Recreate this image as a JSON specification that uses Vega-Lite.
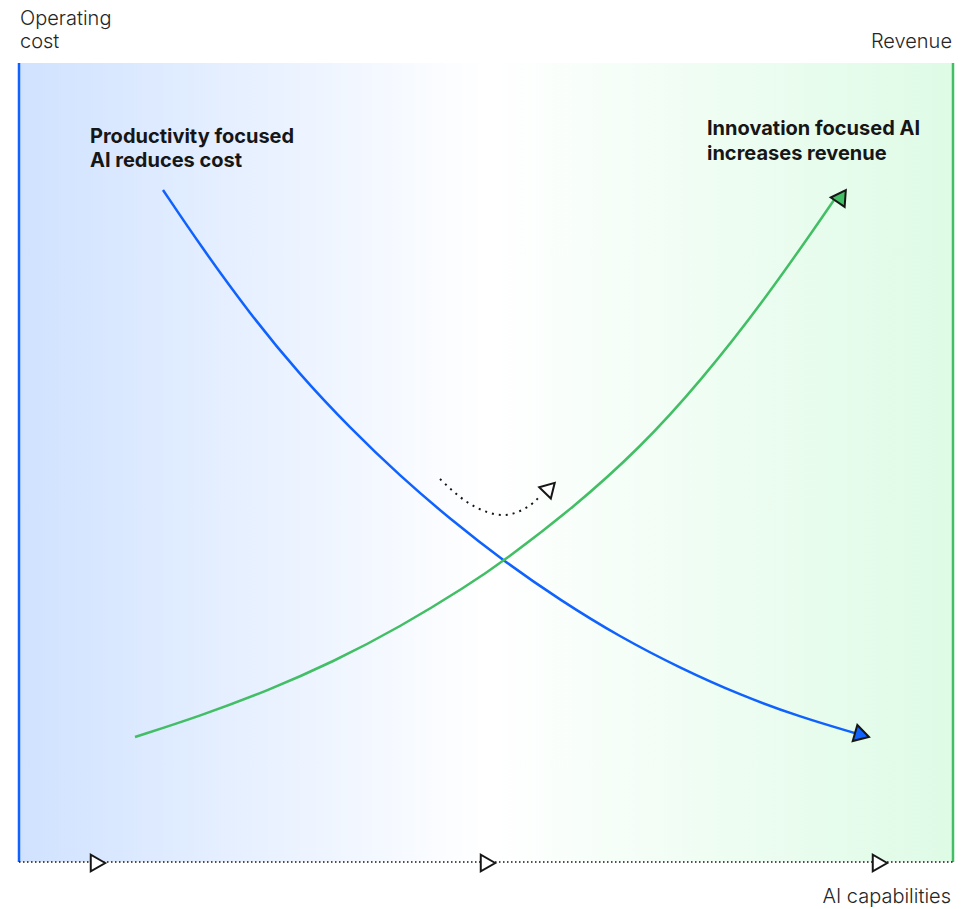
{
  "$schema": "https://vega.github.io/schema/vega-lite/v6.json",
  "width": 971,
  "height": 909,
  "padding": 0,
  "autosize": {"type": "fit", "contains": "padding"},
  "background": "#ffffff",
  "config": {"view": {"stroke": null}},
  "layer": [
    {
      "data": {"values": [{"x0": 19, "x1": 953, "y0": 63, "y1": 862}]},
      "mark": {
        "type": "rect",
        "fill": {
          "gradient": "linear",
          "x1": 0, "x2": 1, "y1": 0, "y2": 0,
          "stops": [
            {"offset": 0, "color": "#d0e2ff"},
            {"offset": 0.5, "color": "#ffffff"},
            {"offset": 1, "color": "#defbe6"}
          ]
        }
      },
      "encoding": {
        "x": {"field": "x0", "type": "quantitative", "scale": {"domain": [0, 971], "nice": false, "zero": false}, "axis": null},
        "x2": {"field": "x1"},
        "y": {"field": "y0", "type": "quantitative", "scale": {"domain": [0, 909], "nice": false, "zero": false, "reverse": true}, "axis": null},
        "y2": {"field": "y1"}
      }
    },
    {
      "data": {"values": [{"x": 19, "y0": 63, "y1": 862}]},
      "mark": {"type": "rule", "color": "#0f62fe", "strokeWidth": 2.5},
      "encoding": {
        "x": {"field": "x", "type": "quantitative"},
        "y": {"field": "y0", "type": "quantitative"},
        "y2": {"field": "y1"}
      }
    },
    {
      "data": {"values": [{"x": 953, "y0": 63, "y1": 862}]},
      "mark": {"type": "rule", "color": "#42be65", "strokeWidth": 2.5},
      "encoding": {
        "x": {"field": "x", "type": "quantitative"},
        "y": {"field": "y0", "type": "quantitative"},
        "y2": {"field": "y1"}
      }
    },
    {
      "data": {"values": [{"x0": 19, "x1": 953, "y": 862}]},
      "mark": {"type": "rule", "color": "#161616", "strokeWidth": 1.5, "strokeDash": [1.5, 2.5]},
      "encoding": {
        "x": {"field": "x0", "type": "quantitative"},
        "x2": {"field": "x1"},
        "y": {"field": "y", "type": "quantitative"}
      }
    },
    {
      "data": {"values": [
        {"x": 163, "y": 190}, {"x": 200, "y": 245}, {"x": 250, "y": 314}, {"x": 300, "y": 375},
        {"x": 350, "y": 428}, {"x": 400, "y": 476}, {"x": 450, "y": 519}, {"x": 505, "y": 562},
        {"x": 560, "y": 600}, {"x": 620, "y": 637}, {"x": 680, "y": 668}, {"x": 740, "y": 695},
        {"x": 800, "y": 717}, {"x": 858, "y": 734}
      ]},
      "mark": {"type": "line", "color": "#0f62fe", "strokeWidth": 2.5, "interpolate": "basis"},
      "encoding": {
        "x": {"field": "x", "type": "quantitative"},
        "y": {"field": "y", "type": "quantitative"}
      }
    },
    {
      "data": {"values": [
        {"x": 135, "y": 737}, {"x": 200, "y": 716}, {"x": 267, "y": 691}, {"x": 333, "y": 662},
        {"x": 400, "y": 627}, {"x": 467, "y": 586}, {"x": 505, "y": 560}, {"x": 573, "y": 508},
        {"x": 640, "y": 448}, {"x": 700, "y": 382}, {"x": 767, "y": 297}, {"x": 834, "y": 200}
      ]},
      "mark": {"type": "line", "color": "#42be65", "strokeWidth": 2.5, "interpolate": "basis"},
      "encoding": {
        "x": {"field": "x", "type": "quantitative"},
        "y": {"field": "y", "type": "quantitative"}
      }
    },
    {
      "data": {"values": [
        {"x": 440, "y": 479}, {"x": 467, "y": 502}, {"x": 487, "y": 512}, {"x": 503, "y": 515},
        {"x": 520, "y": 511}, {"x": 533, "y": 503}, {"x": 541, "y": 495}
      ]},
      "mark": {"type": "line", "color": "#161616", "strokeWidth": 2, "strokeDash": [2, 5], "interpolate": "monotone"},
      "encoding": {
        "x": {"field": "x", "type": "quantitative"},
        "y": {"field": "y", "type": "quantitative"}
      }
    },
    {
      "data": {"values": [{"x": 98, "y": 863}, {"x": 488, "y": 863}, {"x": 880, "y": 863}]},
      "mark": {"type": "point", "shape": "triangle-right", "size": 280, "filled": true, "fill": "#ffffff", "stroke": "#161616", "strokeWidth": 2, "opacity": 1},
      "encoding": {
        "x": {"field": "x", "type": "quantitative"},
        "y": {"field": "y", "type": "quantitative"}
      }
    },
    {
      "data": {"values": [{"x": 862, "y": 735}]},
      "mark": {"type": "point", "shape": "triangle-right", "size": 280, "filled": true, "fill": "#0f62fe", "stroke": "#161616", "strokeWidth": 2, "opacity": 1, "angle": 16},
      "encoding": {
        "x": {"field": "x", "type": "quantitative"},
        "y": {"field": "y", "type": "quantitative"}
      }
    },
    {
      "data": {"values": [{"x": 838, "y": 198}]},
      "mark": {"type": "point", "shape": "triangle-left", "size": 280, "filled": true, "fill": "#42be65", "stroke": "#161616", "strokeWidth": 2, "opacity": 1, "angle": 4},
      "encoding": {
        "x": {"field": "x", "type": "quantitative"},
        "y": {"field": "y", "type": "quantitative"}
      }
    },
    {
      "data": {"values": [{"x": 546, "y": 489}]},
      "mark": {"type": "point", "shape": "triangle-left", "size": 260, "filled": true, "fill": "#ffffff", "stroke": "#161616", "strokeWidth": 2, "opacity": 1, "angle": 14},
      "encoding": {
        "x": {"field": "x", "type": "quantitative"},
        "y": {"field": "y", "type": "quantitative"}
      }
    },
    {
      "data": {"values": [
        {"x": 90, "y": 143, "label": "Productivity focused"},
        {"x": 90, "y": 167, "label": "AI reduces cost"},
        {"x": 707, "y": 135, "label": "Innovation focused AI"},
        {"x": 707, "y": 160, "label": "increases revenue"}
      ]},
      "mark": {"type": "text", "align": "left", "baseline": "alphabetic", "font": "Inter", "fontSize": 20, "fontWeight": "bold", "color": "#161616"},
      "encoding": {
        "x": {"field": "x", "type": "quantitative"},
        "y": {"field": "y", "type": "quantitative"},
        "text": {"field": "label"}
      }
    },
    {
      "data": {"values": [
        {"x": 20, "y": 25, "label": "Operating"},
        {"x": 20, "y": 48, "label": "cost"}
      ]},
      "mark": {"type": "text", "align": "left", "baseline": "alphabetic", "font": "Inter", "fontSize": 20, "fontWeight": 300, "color": "#262626"},
      "encoding": {
        "x": {"field": "x", "type": "quantitative"},
        "y": {"field": "y", "type": "quantitative"},
        "text": {"field": "label"}
      }
    },
    {
      "data": {"values": [
        {"x": 952, "y": 48, "label": "Revenue"},
        {"x": 951, "y": 903, "label": "AI capabilities"}
      ]},
      "mark": {"type": "text", "align": "right", "baseline": "alphabetic", "font": "Inter", "fontSize": 20, "fontWeight": 300, "color": "#262626"},
      "encoding": {
        "x": {"field": "x", "type": "quantitative"},
        "y": {"field": "y", "type": "quantitative"},
        "text": {"field": "label"}
      }
    }
  ]
}
